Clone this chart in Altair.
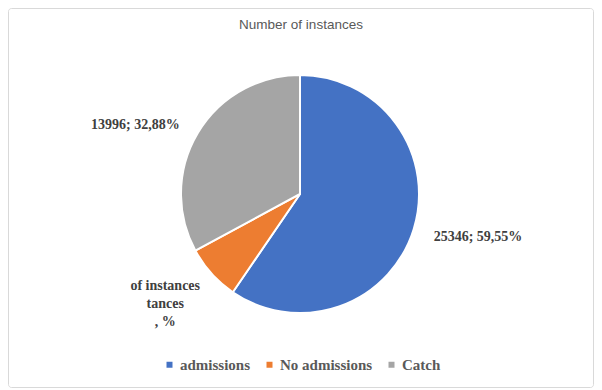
import math
import altair as alt
import pandas as pd

title_text = "Number of instances"
categories = ["admissions", "No admissions", "Catch"]
values = [25346, 3220, 13996]
labels = ["25346; 59,55%", "of instances\ntances\n, %", "13996; 32,88%"]
colors = ["#4472C4", "#ED7D31", "#A5A5A5"]
order = [0, 1, 2]

df = pd.DataFrame({"category": categories, "value": values, "label": labels, "order": order})

W, H = 586, 380
CX, CY = 292, 186
SERIF = "Times New Roman, Liberation Serif, serif"

base = alt.Chart(df)

border = alt.Chart(pd.DataFrame({"a": [0]})).mark_rect(
    fill="white", stroke="#D9D9D9", strokeWidth=1, cornerRadius=3
).encode(
    x=alt.value(0.5), x2=alt.value(W - 0.5), y=alt.value(0.5), y2=alt.value(H - 0.5)
)

title = alt.Chart(pd.DataFrame({"t": [title_text]})).mark_text(
    font="Liberation Sans", fontSize=13.5, color="#595959", align="center", baseline="middle"
).encode(text="t:N", x=alt.value(293), y=alt.value(17))

pie = base.mark_arc(outerRadius=119, stroke="white", strokeWidth=2).encode(
    theta=alt.Theta("value:Q", stack=True),
    order=alt.Order("order:Q"),
    color=alt.Color(
        "category:N",
        scale=alt.Scale(domain=categories, range=colors),
        sort=categories,
        legend=alt.Legend(
            title=None,
            orient="none",
            direction="horizontal",
            legendX=154,
            legendY=349,
            padding=0,
            symbolType="square",
            symbolSize=36,
            symbolStrokeWidth=0,
            labelFont=SERIF,
            labelFontSize=15,
            labelFontWeight="bold",
            labelColor="#595959",
            labelOffset=3,
            columnPadding=11,
        ),
    ),
    x=alt.value(CX),
    y=alt.value(CY),
)

angles = base.transform_window(
    cum="sum(value)", sort=[alt.SortField("order")]
).transform_joinaggregate(
    total="sum(value)"
).transform_calculate(
    ang=f"2 * {math.pi} * (datum.cum - datum.value / 2) / datum.total"
)


def label_layer(cat, r, dx, dy, lh=17):
    return angles.transform_filter(alt.datum.category == cat).mark_text(
        font=SERIF,
        fontSize=14,
        fontWeight="bold",
        color="#404040",
        lineBreak="\n",
        lineHeight=lh,
        align="center",
        baseline="middle",
        dx=dx,
        dy=dy,
    ).encode(
        text="label:N",
        theta=alt.Theta("ang:Q", scale=None),
        radius=alt.value(r),
        x=alt.value(CX),
        y=alt.value(CY),
    )


texts = [
    label_layer("admissions", 180, 6, -10),
    label_layer("No admissions", 180, -1, -28, 18),
    label_layer("Catch", 180, -10, 23),
]

chart = alt.layer(border, title, pie, *texts).properties(
    width=W,
    height=H,
    autosize=alt.AutoSizeParams(type="none"),
    padding=0,
).configure_view(stroke=None)

chart.save("out.html", embed_options={"renderer": "svg", "actions": False})
